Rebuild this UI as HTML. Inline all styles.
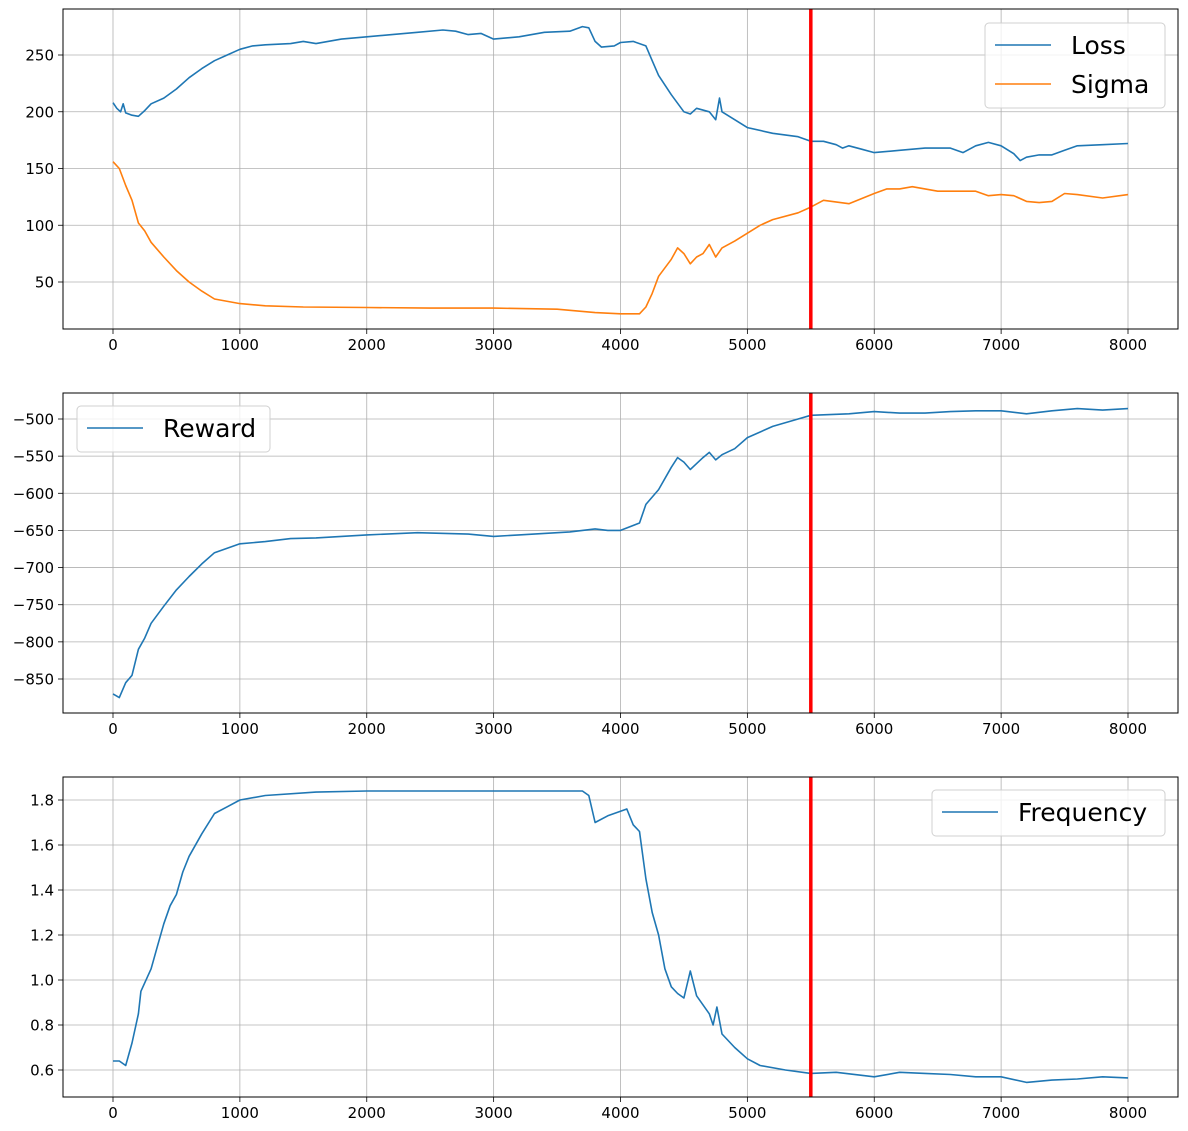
<!DOCTYPE html>
<html><head><meta charset="utf-8"><style>
body{margin:0;background:#fff;}
svg{display:block;font-family:"DejaVu Sans","Liberation Sans",sans-serif;}
</style></head><body>
<svg id="fig" width="1188" height="1131" viewBox="0 0 1188 1131" xmlns="http://www.w3.org/2000/svg"></svg>
<script>
const stepsLoss=[0,30,60,80,100,150,200,250,300,400,500,600,700,800,900,1000,1100,1200,1400,1500,1600,1800,2000,2200,2400,2600,2700,2800,2900,3000,3200,3400,3600,3700,3750,3800,3850,3950,4000,4100,4200,4250,4300,4400,4500,4550,4600,4700,4750,4780,4800,4900,5000,5200,5400,5500,5600,5700,5750,5800,5900,6000,6200,6400,6600,6700,6800,6900,7000,7100,7150,7200,7300,7400,7500,7600,7800,8000];
const lossValues=[208,203,200,207,199,197,196,201,207,212,220,230,238,245,250,255,258,259,260,262,260,264,266,268,270,272,271,268,269,264,266,270,271,275,274,262,257,258,261,262,258,245,232,215,200,198,203,200,193,212,200,193,186,181,178,174,174,171,168,170,167,164,166,168,168,164,170,173,170,163,157,160,162,162,166,170,171,172];
const stepsSigma=[0,50,100,150,200,250,300,400,500,600,700,800,1000,1200,1500,2000,2500,3000,3500,3800,4000,4150,4200,4250,4300,4400,4450,4500,4550,4600,4650,4700,4750,4800,4900,5000,5100,5200,5400,5500,5600,5800,6000,6100,6200,6300,6500,6800,6900,7000,7100,7200,7300,7400,7500,7600,7800,8000];
const sigmaValues=[156,150,135,122,102,95,85,72,60,50,42,35,31,29,28,27.5,27,27,26,23,22,22,28,40,55,70,80,75,66,72,75,83,72,80,86,93,100,105,111,116,122,119,128,132,132,134,130,130,126,127,126,121,120,121,128,127,124,127];
const stepsReward=[0,50,100,150,200,250,300,400,500,600,700,800,1000,1200,1400,1600,2000,2400,2800,3000,3200,3600,3800,3900,4000,4150,4200,4300,4400,4450,4500,4550,4600,4650,4700,4750,4800,4900,5000,5200,5400,5500,5800,6000,6200,6400,6600,6800,7000,7200,7400,7600,7800,8000];
const rewardValues=[-870,-875,-855,-845,-810,-795,-775,-752,-730,-712,-695,-680,-668,-665,-661,-660,-656,-653,-655,-658,-656,-652,-648,-650,-650,-640,-615,-595,-565,-552,-558,-568,-560,-552,-545,-555,-548,-540,-525,-510,-500,-495,-493,-490,-492,-492,-490,-489,-489,-493,-489,-486,-488,-486];
const stepsFreq=[0,50,100,150,200,220,300,350,400,450,500,550,600,700,800,900,1000,1200,1600,2000,3700,3750,3800,3900,4000,4050,4100,4150,4200,4250,4300,4350,4400,4450,4500,4550,4600,4700,4730,4760,4800,4900,5000,5100,5300,5500,5700,6000,6200,6400,6600,6800,7000,7200,7400,7600,7800,8000];
const freqValues=[0.64,0.64,0.62,0.72,0.85,0.95,1.05,1.15,1.25,1.33,1.38,1.48,1.55,1.65,1.74,1.77,1.80,1.82,1.835,1.84,1.84,1.82,1.70,1.73,1.75,1.76,1.69,1.66,1.45,1.30,1.20,1.05,0.97,0.94,0.92,1.04,0.93,0.85,0.80,0.88,0.76,0.70,0.65,0.62,0.60,0.585,0.59,0.57,0.59,0.585,0.58,0.57,0.57,0.545,0.555,0.56,0.57,0.565];
const xTicks=[0,1000,2000,3000,4000,5000,6000,7000,8000];
const lossTicks=[50,100,150,200,250];
const rewardTicks=[-850,-800,-750,-700,-650,-600,-550,-500];
const freqTicks=[0.6,0.8,1.0,1.2,1.4,1.6,1.8];
const markerStep=5500;

const NS="http://www.w3.org/2000/svg";
const svg=document.getElementById('fig');
function mk(tag,attrs,parent){const e=document.createElementNS(NS,tag);for(const k in attrs)e.setAttribute(k,attrs[k]);(parent||svg).appendChild(e);return e;}
const L=63,R=1178;
const xs=v=>113+v*(1015/8000);

function panel(name,top,bot,yScale,yTicks,fmt,series,legend){
  const g=mk('g',{});
  
  
  xTicks.forEach(t=>{const x=xs(t);mk('line',{x1:x,x2:x,y1:top,y2:bot,stroke:'#b0b0b0','stroke-width':0.8},g);
    mk('line',{x1:x,x2:x,y1:bot,y2:bot+5,stroke:'#000','stroke-width':0.8},g);
    const tx=mk('text',{x:x,y:bot+21,'font-size':15,'text-anchor':'middle'},g);tx.textContent=t;
    
    });
  yTicks.forEach(t=>{const y=yScale(t);mk('line',{x1:L,x2:R,y1:y,y2:y,stroke:'#b0b0b0','stroke-width':0.8},g);
    mk('line',{x1:L-5,x2:L,y1:y,y2:y,stroke:'#000','stroke-width':0.8},g);
    const tx=mk('text',{x:L-9,y:y+5.5,'font-size':15,'text-anchor':'end'},g);tx.textContent=fmt(t).replace('-','\u2212');
    
    });
  series.forEach(s=>{const d=s.x.map((v,i)=>(i?'L':'M')+xs(v).toFixed(1)+' '+yScale(s.y[i]).toFixed(1)).join(' ');
    const p=mk('path',{d:d,fill:'none',stroke:s.c,'stroke-width':1.6,'stroke-linejoin':'round'},g);
    
    });
  if(markerStep!=null&&legend.marker){const ml=mk('line',{x1:xs(markerStep),x2:xs(markerStep),y1:top,y2:bot,stroke:'#ff0000','stroke-width':3.5},g);
    
    }
  mk('rect',{x:L,y:top,width:R-L,height:bot-top,fill:'none',stroke:'#000','stroke-width':1},g);
  const lg=mk('g',{},g);
  
  
  mk('rect',{x:legend.x,y:legend.y,width:legend.w,height:legend.h,rx:4,fill:'#fff','fill-opacity':0.8,stroke:'#d0d0d0'},lg);
  legend.items.forEach((it,i)=>{const cy=legend.y+22+i*39;
    mk('line',{x1:legend.x+10,x2:legend.x+66,y1:cy,y2:cy,stroke:it.c,'stroke-width':1.6},lg);
    const t=mk('text',{x:legend.x+86,y:cy+9,'font-size':25},lg);t.textContent=it.n;
    
    });
}
panel('loss-sigma-panel',9,329,v=>55+(250-v)*(227/200),lossTicks,t=>String(t),
  [{x:stepsLoss,y:lossValues,c:'#1f77b4',n:'loss-line'},{x:stepsSigma,y:sigmaValues,c:'#ff7f0e',n:'sigma-line'}],
  {x:985,y:23,w:180,h:85,marker:true,items:[{n:'Loss',c:'#1f77b4'},{n:'Sigma',c:'#ff7f0e'}]});
panel('reward-panel',393,713,v=>419+(-500-v)*(260/350),rewardTicks,t=>String(t),
  [{x:stepsReward,y:rewardValues,c:'#1f77b4',n:'reward-line'}],
  {x:77,y:406,w:193,h:46,marker:true,items:[{n:'Reward',c:'#1f77b4'}]});
panel('frequency-panel',777,1097,v=>800+(1.8-v)*225,freqTicks,t=>t.toFixed(1),
  [{x:stepsFreq,y:freqValues,c:'#1f77b4',n:'frequency-line'}],
  {x:932,y:790,w:233,h:46,marker:true,items:[{n:'Frequency',c:'#1f77b4'}]});
</script>
</body></html>
